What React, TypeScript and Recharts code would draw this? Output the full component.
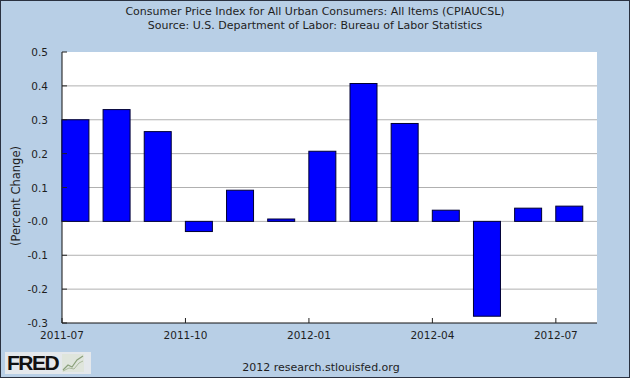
import { BarChart, Bar, XAxis, YAxis, CartesianGrid, ReferenceLine } from "recharts";

const months = [
    "2011-07", "2011-08", "2011-09", "2011-10", "2011-11", "2011-12",
    "2012-01", "2012-02", "2012-03", "2012-04", "2012-05", "2012-06", "2012-07",
];
const cpiChange = [0.3, 0.33, 0.265, -0.03, 0.092, 0.007, 0.207, 0.407, 0.289, 0.033, -0.28, 0.039, 0.045];
const yTicks = [-0.3, -0.2, -0.1, 0, 0.1, 0.2, 0.3, 0.4, 0.5];
const xTickLabels = ["2011-07", "2011-10", "2012-01", "2012-04", "2012-07"];

const data = months.map((m, i) => ({ month: m, idx: i, value: cpiChange[i] }));
const xTicks = xTickLabels.map((l) => months.indexOf(l));
const gridValues = yTicks.filter((v) => v > -0.3 && v < 0.5);

const FONT = "'DejaVu Sans', Verdana, sans-serif";
const BG = "#b8cfe6";
const TEXT = "#1e1e1e";

// FRED draws each monthly bar starting at the period's tick, not centered on it
const PeriodBar = (props: any) => {
    const { x, y, width, height, fill, stroke } = props;
    if (x == null || y == null) return null;
    const top = height < 0 ? y + height : y;
    return (
        <rect
            x={x + width / 2}
            y={top}
            width={width}
            height={Math.abs(height)}
            fill={fill}
            stroke={stroke}
            strokeWidth={1}
        />
    );
};

const YTick = ({ x, y, payload }: any) => (
    <g>
        <line x1={x + 14} x2={x + 19} y1={y} y2={y} stroke="#222" />
        <text x={x} y={y} dy={4} textAnchor="end" fontSize={10.5} fontFamily={FONT} fill={TEXT}>
            {payload.value === 0 ? "-0.0" : payload.value.toFixed(1)}
        </text>
    </g>
);

const XTick = ({ x, y, payload }: any) => (
    <g>
        <line x1={x} x2={x} y1={y - 7} y2={y - 12} stroke="#222" />
        <text x={x} y={y} dy={9} textAnchor="middle" fontSize={10.5} fontFamily={FONT} fill={TEXT}>
            {months[payload.value]}
        </text>
    </g>
);

export default function App() {
    return (
        <div
            style={{
                position: "absolute",
                left: 0,
                top: 0,
                width: 628,
                height: 376,
                background: BG,
                border: "1px solid #2a3140",
                fontFamily: FONT,
                color: TEXT,
            }}
        >
            <div style={{ position: "absolute", left: 0, width: 628, top: 4, textAlign: "center", fontSize: 11, lineHeight: "14px" }}>
                Consumer Price Index for All Urban Consumers: All Items (CPIAUCSL)
                <br />
                Source: U.S. Department of Labor: Bureau of Labor Statistics
            </div>
            <div
                style={{
                    position: "absolute",
                    left: 15,
                    top: 195,
                    transform: "translate(-50%, -50%) rotate(-90deg)",
                    fontSize: 11.5,
                    whiteSpace: "nowrap",
                }}
            >
                (Percent Change)
            </div>
            <div style={{ position: "absolute", top: 0, left: -1 }}>
                <BarChart
                    width={630}
                    height={378}
                    data={data}
                    margin={{ top: 51, right: 33, bottom: 26, left: 0 }}
                    barSize={27}
                >
                    <CartesianGrid vertical={false} horizontal={false} fill="#ffffff" fillOpacity={1} />
                    <XAxis
                        dataKey="idx"
                        type="number"
                        domain={[0, months.length]}
                        ticks={xTicks}
                        height={30}
                        axisLine={{ stroke: "#111", strokeWidth: 1 }}
                        tickLine={false}
                        tickSize={0}
                        tickMargin={7}
                        tick={<XTick />}
                        interval={0}
                    />
                    <YAxis
                        type="number"
                        domain={[-0.3, 0.5]}
                        ticks={yTicks}
                        width={62}
                        axisLine={{ stroke: "#111", strokeWidth: 1 }}
                        tickLine={false}
                        tickSize={0}
                        tickMargin={14}
                        tick={<YTick />}
                        interval={0}
                    />
                    {gridValues.map((v) => (
                        <ReferenceLine key={v} y={v} stroke="#b0b0b0" strokeWidth={1} />
                    ))}
                    <Bar
                        dataKey="value"
                        fill="#0000ff"
                        stroke="#000033"
                        shape={<PeriodBar />}
                        isAnimationActive={false}
                        zIndex={1000}
                    />
                </BarChart>
            </div>
            <div
                style={{
                    position: "absolute",
                    left: 4,
                    top: 351,
                    width: 86,
                    height: 22,
                    background: "#e4e8ec",
                    display: "flex",
                    alignItems: "center",
                }}
            >
                <span
                    style={{
                        fontFamily: "'Liberation Sans', Arial, sans-serif",
                        fontWeight: 900,
                        fontSize: 21,
                        letterSpacing: -1.5,
                        color: "#111",
                        marginLeft: 2,
                    }}
                >
                    FRED
                </span>
                <svg width={22} height={18} style={{ marginLeft: 4 }}>
                    <rect x={0} y={0} width={22} height={18} fill="#dfe5dc" />
                    <polyline points="1,16 6,11 10,13 15,6 21,2" fill="none" stroke="#8aa07a" strokeWidth={1.2} />
                    <polyline points="1,17 7,14 12,15 17,9 21,7" fill="none" stroke="#a9b99c" strokeWidth={1} />
                </svg>
            </div>
            <div style={{ position: "absolute", left: 0, width: 640, top: 360, textAlign: "center", fontSize: 11 }}>
                2012 research.stlouisfed.org
            </div>
        </div>
    );
}
